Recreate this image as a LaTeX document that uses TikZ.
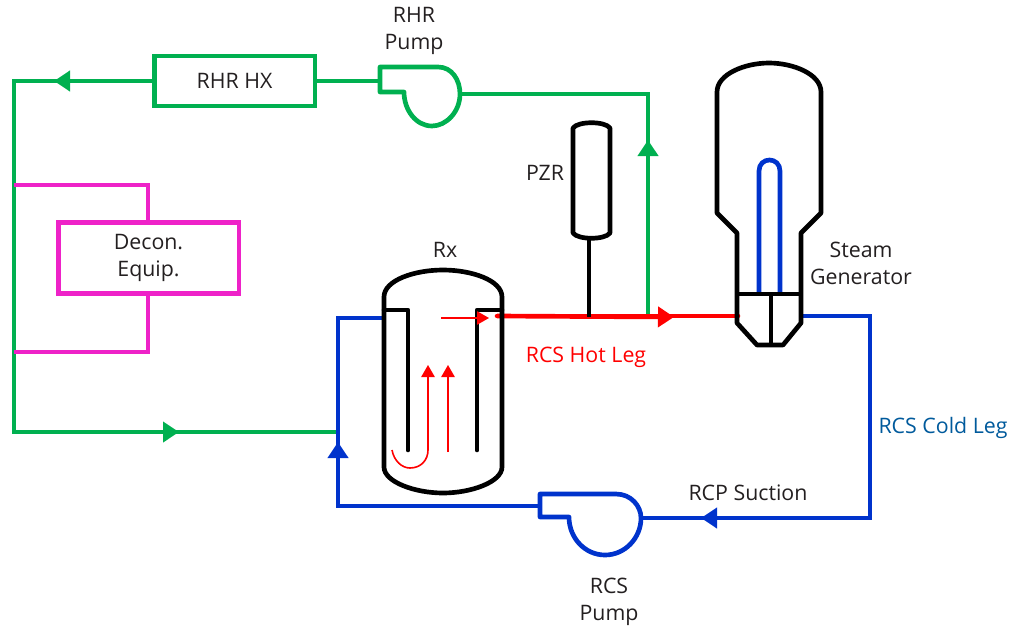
\documentclass[tikz,border=0pt]{standalone}
\usepackage{fontspec}
\setmainfont{Open Sans}
\usetikzlibrary{arrows.meta}
\definecolor{grn}{HTML}{00B050}
\definecolor{blu}{HTML}{0033CC}
\definecolor{mag}{HTML}{EE22C8}
\definecolor{rd}{HTML}{FF0000}
\definecolor{cold}{HTML}{005A9C}
\definecolor{txt}{HTML}{231F20}
\tikzset{
  pipe/.style={line width=3.5pt,line join=miter},
  vessel/.style={pipe,draw=black,line join=round},
  greenpipe/.style={pipe,draw=grn},
  bluepipe/.style={pipe,draw=blu},
  magpipe/.style={pipe,draw=mag},
  redpipe/.style={pipe,draw=rd},
  thinred/.style={line width=1.2pt,draw=rd},
  bigtip/.style={-{Triangle[length=12pt,width=15pt]}},
  smalltip/.style={-{Triangle[length=9pt,width=10pt]}},
  lab/.style={font=\fontsize{16}{20.25}\selectfont,text=txt,inner sep=0pt,align=center},
  boxg/.style={draw=grn,line width=3.5pt,minimum width=120.5pt,minimum height=37.5pt,inner sep=0pt,font=\fontsize{16}{20.25}\selectfont,text=txt},
  boxm/.style={draw=mag,line width=3.5pt,minimum width=135.5pt,minimum height=53.5pt,inner sep=0pt,align=center,font=\fontsize{16}{20.25}\selectfont,text=txt}
}
\begin{document}
\begin{tikzpicture}[x=0.75pt,y=-0.75pt]
\useasboundingbox (0,0) rectangle (1013,628);
% boxes
\node[boxg] (hx) at (234.5,81) {RHR HX};
\node[boxm] (decon) at (148.5,258) {\raisebox{-2pt}{Decon.}\\[0pt]\raisebox{-2pt}{Equip.}};
% named junctions
\coordinate (gTL) at (14,81);
\coordinate (gBL) at (14,432);
\coordinate (gIn) at (338,432);
\coordinate (gTip1) at (54,81);
\coordinate (gTip2) at (179,432);
\coordinate (gTip3) at (648,140);
\coordinate (gCorner) at (648,94);
\coordinate (gJoin) at (648,316);
\coordinate (pIn) at (381,81);
\coordinate (pOut) at (460,94);
% green loop
\draw[greenpipe] (hx.west) -- (gTL) -- (gBL) -- (gIn);
\draw[grn,line width=3.5pt,bigtip] (hx.west) -- (gTip1);
\draw[grn,line width=3.5pt,bigtip] (gBL) -- (gTip2);
\draw[greenpipe] (hx.east) -- (pIn);
\draw[greenpipe] (pOut) -- (gCorner) -- (gJoin);
\draw[grn,line width=3.5pt,bigtip] (gJoin) -- (gTip3);
% RHR pump
\draw[greenpipe,line join=round] (380,67) -- (438,67) .. controls (452,67) and (460,80) .. (460,94)
  .. controls (460,112) and (446,126) .. (432,126) .. controls (416,126) and (404,110) .. (404,92)
  -- (380,92) -- cycle;
% magenta
\coordinate (mA) at (14,185); \coordinate (mB) at (148,185);
\coordinate (mC) at (14,352); \coordinate (mD) at (148,352);
\draw[magpipe] (mA) -- (mB) -- (decon.north -| mB);
\draw[magpipe] (decon.south -| mD) -- (mD) -- (mC);
% blue loop
\coordinate (bA) at (384,318); \coordinate (bB) at (338,318); \coordinate (bC) at (338,506);
\coordinate (bD) at (541,506); \coordinate (bE) at (641,518); \coordinate (bF) at (870,518);
\coordinate (bG) at (870,316); \coordinate (bH) at (801,316);
\coordinate (bTip1) at (338,442); \coordinate (bTip2) at (701,518);
\draw[bluepipe] (bA) -- (bB) -- (bC) -- (bD);
\draw[bluepipe] (bE) -- (bF) -- (bG) -- (bH);
\draw[blu,line width=3.5pt,bigtip] (bC) -- (bTip1);
\draw[blu,line width=3.5pt,bigtip] (bF) -- (bTip2);
% RCS pump
\draw[bluepipe,line join=round] (540,494) -- (616,494) .. controls (631,494) and (641,506) .. (641,518)
  .. controls (641,538) and (625,555) .. (605,555) .. controls (585,555) and (569,538) .. (569,517)
  -- (540,517) -- cycle;
% hot leg
\coordinate (rA) at (497,316); \coordinate (rB) at (738,316); \coordinate (rTip) at (674,317);
\draw[redpipe,line cap=round] (rA) -- (rB);
\draw[rd,line width=3.5pt,bigtip] (rA) -- (rTip);
% reactor
\draw[vessel] (384,310) -- (384,297) .. controls (384,280) and (415,270) .. (443,270)
  .. controls (471,270) and (502,280) .. (502,297) -- (502,467)
  .. controls (502,482) and (471,493) .. (443,493) .. controls (415,493) and (384,482) .. (384,467) -- cycle;
\draw[vessel,line cap=round] (384,310) -- (408,310) -- (408,450);
\draw[vessel,line cap=round] (502,310) -- (477,310) -- (477,450);
% in-vessel flow
\draw[thinred,smalltip] (441,318) -- (489,318);
\draw[thinred,smalltip] (448,452) -- (448,365);
\draw[thinred,smalltip] (392,450) .. controls (394,461) and (402,468) .. (410,468)
  .. controls (421,468) and (428,460) .. (428,450) -- (428,365);
% PZR
\draw[vessel] (573,128) .. controls (578,121) and (605,121) .. (610,128) -- (610,233)
  .. controls (605,240) and (578,240) .. (573,233) -- cycle;
\coordinate (pzrB) at (589,240); \coordinate (pzrJ) at (589,317);
\draw[vessel] (pzrB) -- (pzrJ);
% steam generator
\draw[bluepipe] (759,294) -- (759,171) .. controls (759,164) and (764,160) .. (769.5,160)
  .. controls (775,160) and (780,164) .. (780,171) -- (780,294);
\draw[vessel] (717,213) -- (717,92) .. controls (717,74) and (745,63) .. (769,63)
  .. controls (793,63) and (821,74) .. (821,92) -- (821,213) -- (801,233) -- (801,323)
  -- (783,345) -- (757,345) -- (737,323) -- (737,233) -- cycle;
\draw[vessel] (737,294) -- (801,294);
\draw[vessel] (771,294) -- (771,345);
% labels
\node[lab] (t1) at (414,31) {RHR\\Pump};
\node[lab] (t2) at (545,173) {PZR};
\node[lab] (t3) at (445,250) {Rx};
\node[lab] (t4) at (861,263) {Steam\\Generator};
\node[lab,text=rd] (t5) at (586,357) {RCS Hot Leg};
\node[lab,text=cold] (t6) at (943,428) {RCS Cold Leg};
\node[lab] (t7) at (748,493) {RCP Suction};
\node[lab] (t8) at (609,602) {RCS\\Pump};
\end{tikzpicture}
\end{document}
